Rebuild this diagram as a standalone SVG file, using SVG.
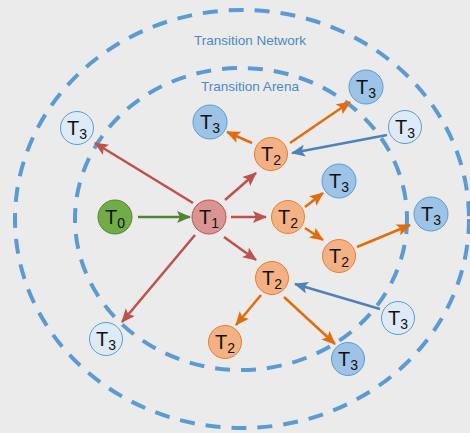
<svg xmlns="http://www.w3.org/2000/svg" width="470" height="433" viewBox="0 0 470 433">
<style>
.ring{fill:none;stroke:#5b9bd5;stroke-width:4;stroke-dasharray:15 11}
.title{font-family:"Liberation Sans",Arial,sans-serif;font-size:13.5px;fill:#4a8ac6;text-anchor:middle}
.lbl{font-family:"Liberation Sans",Arial,sans-serif;font-size:20px;fill:#111;text-anchor:middle}
.sub{font-size:14px}
.t0{fill:#70ad47;stroke:#548235;stroke-width:1}
.t1{fill:#d99594;stroke:#c0504d;stroke-width:1}
.t2{fill:#f4b183;stroke:#ed7d31;stroke-width:1}
.t3f{fill:#9dc3e6;stroke:#5b9bd5;stroke-width:1}
.t3l{fill:#deebf7;stroke:#5b9bd5;stroke-width:1}
.red{stroke:#c0504d;stroke-width:2.5;fill:none;marker-end:url(#ar)}
.org{stroke:#e36c0a;stroke-width:2.5;fill:none;marker-end:url(#ao)}
.blu{stroke:#4f81bd;stroke-width:2.5;fill:none;marker-end:url(#ab)}
.grn{stroke:#548235;stroke-width:2.5;fill:none;marker-end:url(#ag)}
</style>
<defs>
<marker id="ar" markerUnits="userSpaceOnUse" markerWidth="14" markerHeight="12" refX="13" refY="6" orient="auto" viewBox="0 0 14 12"><path d="M0,0 L14,6 L0,12 L3,6 z" fill="#c0504d"/></marker>
<marker id="ao" markerUnits="userSpaceOnUse" markerWidth="14" markerHeight="12" refX="13" refY="6" orient="auto" viewBox="0 0 14 12"><path d="M0,0 L14,6 L0,12 L3,6 z" fill="#e36c0a"/></marker>
<marker id="ab" markerUnits="userSpaceOnUse" markerWidth="14" markerHeight="12" refX="13" refY="6" orient="auto" viewBox="0 0 14 12"><path d="M0,0 L14,6 L0,12 L3,6 z" fill="#4f81bd"/></marker>
<marker id="ag" markerUnits="userSpaceOnUse" markerWidth="14" markerHeight="12" refX="13" refY="6" orient="auto" viewBox="0 0 14 12"><path d="M0,0 L14,6 L0,12 L3,6 z" fill="#548235"/></marker>
</defs>
<rect width="470" height="433" fill="#ebebeb"/>
<g id="regions">
<ellipse class="ring" cx="242" cy="219" rx="227" ry="209"/>
<ellipse class="ring" cx="241" cy="219" rx="166" ry="151"/>
<text class="title" x="250" y="45">Transition Network</text>
<text class="title" x="250" y="91">Transition Arena</text>
</g>
<g id="connectors">
<line class="grn" x1="138" y1="217" x2="190" y2="217"/>
<line class="red" x1="193" y1="203" x2="95" y2="143"/>
<line class="red" x1="225" y1="200" x2="256" y2="173"/>
<line class="red" x1="231" y1="217" x2="266" y2="217"/>
<line class="red" x1="224" y1="237" x2="256" y2="260"/>
<line class="red" x1="195" y1="235" x2="122" y2="322"/>
<line class="org" x1="252" y1="143" x2="227" y2="132"/>
<line class="org" x1="290" y1="143" x2="350" y2="102"/>
<line class="blu" x1="387" y1="135" x2="292" y2="153"/>
<line class="org" x1="305" y1="207" x2="323" y2="193"/>
<line class="org" x1="305" y1="228" x2="323" y2="240"/>
<line class="org" x1="357" y1="247" x2="410" y2="225"/>
<line class="blu" x1="380" y1="309" x2="295" y2="284"/>
<line class="org" x1="261" y1="295" x2="236" y2="325"/>
<line class="org" x1="284" y1="297" x2="335" y2="344"/>
</g>
<g id="n-t0"><circle class="t0" cx="115" cy="217" r="17"/><text class="lbl" x="115" y="224">T<tspan class="sub" dy="4">0</tspan></text></g>
<g id="n-t1"><circle class="t1" cx="209" cy="217" r="17"/><text class="lbl" x="209" y="224">T<tspan class="sub" dy="4">1</tspan></text></g>
<g id="n-t2a"><circle class="t2" cx="271" cy="154" r="16.5"/><text class="lbl" x="271" y="161">T<tspan class="sub" dy="4">2</tspan></text></g>
<g id="n-t2b"><circle class="t2" cx="288" cy="217" r="16.5"/><text class="lbl" x="288" y="224">T<tspan class="sub" dy="4">2</tspan></text></g>
<g id="n-t2c"><circle class="t2" cx="339" cy="256" r="16.5"/><text class="lbl" x="339" y="263">T<tspan class="sub" dy="4">2</tspan></text></g>
<g id="n-t2d"><circle class="t2" cx="272" cy="278" r="16.5"/><text class="lbl" x="272" y="285">T<tspan class="sub" dy="4">2</tspan></text></g>
<g id="n-t2e"><circle class="t2" cx="225" cy="342" r="16.5"/><text class="lbl" x="225" y="349">T<tspan class="sub" dy="4">2</tspan></text></g>
<g id="n-t3a"><circle class="t3f" cx="210" cy="122" r="17"/><text class="lbl" x="210" y="129">T<tspan class="sub" dy="4">3</tspan></text></g>
<g id="n-t3b"><circle class="t3f" cx="366" cy="87" r="17"/><text class="lbl" x="366" y="94">T<tspan class="sub" dy="4">3</tspan></text></g>
<g id="n-t3c"><circle class="t3l" cx="405" cy="127" r="16.5"/><text class="lbl" x="405" y="134">T<tspan class="sub" dy="4">3</tspan></text></g>
<g id="n-t3d"><circle class="t3l" cx="77" cy="128" r="16.5"/><text class="lbl" x="77" y="135">T<tspan class="sub" dy="4">3</tspan></text></g>
<g id="n-t3e"><circle class="t3f" cx="339" cy="181" r="17"/><text class="lbl" x="339" y="188">T<tspan class="sub" dy="4">3</tspan></text></g>
<g id="n-t3f"><circle class="t3f" cx="431" cy="214" r="17"/><text class="lbl" x="431" y="221">T<tspan class="sub" dy="4">3</tspan></text></g>
<g id="n-t3g"><circle class="t3f" cx="348" cy="359" r="16.5"/><text class="lbl" x="348" y="366">T<tspan class="sub" dy="4">3</tspan></text></g>
<g id="n-t3h"><circle class="t3l" cx="398" cy="318" r="16.5"/><text class="lbl" x="398" y="325">T<tspan class="sub" dy="4">3</tspan></text></g>
<g id="n-t3i"><circle class="t3l" cx="106" cy="339" r="16.5"/><text class="lbl" x="106" y="346">T<tspan class="sub" dy="4">3</tspan></text></g>
</svg>
